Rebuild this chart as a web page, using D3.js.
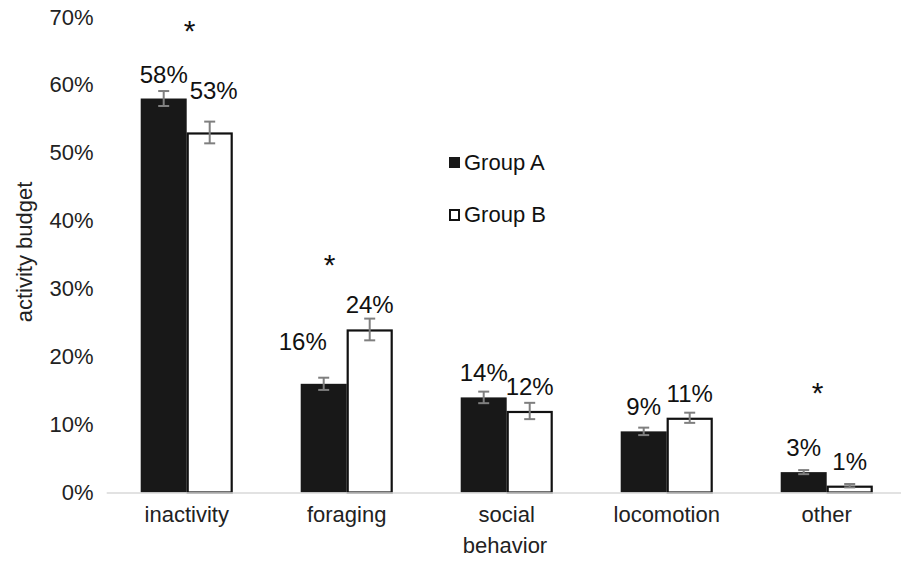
<!DOCTYPE html>
<html>
<head>
<meta charset="utf-8">
<script src="https://cdn.jsdelivr.net/npm/d3@7"></script>
<style>
  html, body { margin: 0; padding: 0; background: #fff; }
  svg { display: block; font-family: "Liberation Sans", Arial, Helvetica, sans-serif; }
</style>
</head>
<body>
<svg id="chart" width="901" height="561"></svg>
<script>
// ---- data ----
const categories = ["inactivity", "foraging", "social", "locomotion", "other"];
const seriesNames = ["Group A", "Group B"];
const groupA = [0.58, 0.16, 0.14, 0.09, 0.03];
const groupB = [0.53, 0.24, 0.12, 0.11, 0.01];
const errorA = [0.011, 0.009, 0.0085, 0.0055, 0.003];
const errorB = [0.016, 0.016, 0.012, 0.0075, 0.0025];
const significant = [true, true, false, false, true];
const asteriskLevel = [0.684, 0.34, null, null, 0.151];
const yTicks = [0, 0.1, 0.2, 0.3, 0.4, 0.5, 0.6, 0.7];

// ---- layout ----
const svg = d3.select("#chart");
const x0 = d3.scaleBand().domain(categories).range([106.7, 906.7])
  .paddingInner(0.425).paddingOuter(0.2125);
const x1 = d3.scaleBand().domain(seriesNames).range([0, x0.bandwidth()]);
const y = d3.scaleLinear().domain([0, 0.7]).range([492.5, 17]);

const rows = categories.map((c, i) => ({
  cat: c, i,
  vals: [
    { s: "Group A", v: groupA[i], e: errorA[i] },
    { s: "Group B", v: groupB[i], e: errorB[i] }
  ]
}));

// y axis tick labels (no line)
const yAxis = d3.axisLeft(y).tickValues(yTicks).tickFormat(d3.format(".0%")).tickSize(0).tickPadding(0);
const gy = svg.append("g").attr("transform", "translate(93.5,0)").call(yAxis);
gy.select(".domain").remove();
gy.selectAll("text").attr("font-size", 22).attr("fill", "#222").attr("font-family", null);

// bars
const groups = svg.append("g").selectAll("g").data(rows).join("g")
  .attr("transform", d => `translate(${x0(d.cat)},0)`);

groups.selectAll("rect").data(d => d.vals).join("rect")
  .attr("x", d => x1(d.s) + (d.s === "Group B" ? 1 : 0))
  .attr("width", d => x1.bandwidth() - (d.s === "Group B" ? 2 : 0))
  .attr("y", d => y(d.v) + (d.s === "Group B" ? 1 : 0))
  .attr("height", d => y(0) - y(d.v) - (d.s === "Group B" ? 1 : 0))
  .attr("fill", d => d.s === "Group A" ? "#181818" : "#ffffff")
  .attr("stroke", d => d.s === "Group A" ? "none" : "#111")
  .attr("stroke-width", 2.2);

// x axis baseline
const xAxis = d3.axisBottom(x0).tickSize(0).tickPadding(0);
const gx = svg.append("g").attr("transform", `translate(0,${y(0)})`).call(xAxis);
gx.select(".domain").remove();
svg.append("line").attr("x1", 106.7).attr("x2", 901).attr("y1", y(0) + 0.5).attr("y2", y(0) + 0.5)
  .attr("stroke", "#d9d9d9").attr("stroke-width", 1.5);
gx.selectAll("text").attr("font-size", 22).attr("fill", "#222").attr("font-family", null)
  .attr("dy", null).attr("y", 29);

// error bars
const eb = groups.selectAll("g.err").data(d => d.vals).join("g").attr("class", "err")
  .attr("stroke", "#7f7f7f").attr("stroke-width", 2);
eb.append("line")
  .attr("x1", d => x1(d.s) + x1.bandwidth() / 2).attr("x2", d => x1(d.s) + x1.bandwidth() / 2)
  .attr("y1", d => y(d.v + d.e)).attr("y2", d => y(d.v - d.e));
eb.append("line")
  .attr("x1", d => x1(d.s) + x1.bandwidth() / 2 - 5.5).attr("x2", d => x1(d.s) + x1.bandwidth() / 2 + 5.5)
  .attr("y1", d => y(d.v + d.e)).attr("y2", d => y(d.v + d.e));
eb.append("line")
  .attr("x1", d => x1(d.s) + x1.bandwidth() / 2 - 5.5).attr("x2", d => x1(d.s) + x1.bandwidth() / 2 + 5.5)
  .attr("y1", d => y(d.v - d.e)).attr("y2", d => y(d.v - d.e));

// data labels (manual nudges mimic the reference placement)
const nudge = { "inactivity|Group B": [4, -17], "foraging|Group A": [-21, -18] };
groups.each(function (row) {
  d3.select(this).selectAll("text.lbl").data(row.vals).join("text").attr("class", "lbl")
    .attr("x", d => x1(d.s) + x1.bandwidth() / 2 + ((nudge[row.cat + "|" + d.s] || [0, 0])[0]))
    .attr("y", d => y(d.v) - 16 + ((nudge[row.cat + "|" + d.s] || [0, 0])[1]))
    .attr("text-anchor", "middle").attr("font-size", 24).attr("fill", "#111")
    .text(d => d3.format(".0%")(d.v));
});

// significance asterisks
const astDx = [3, -17, 0, 0, -9];
svg.append("g").selectAll("text").data(rows.filter(d => significant[d.i])).join("text")
  .attr("x", d => x0(d.cat) + x0.bandwidth() / 2 + astDx[d.i])
  .attr("y", d => y(asteriskLevel[d.i]) + 13)
  .attr("text-anchor", "middle").attr("font-size", 30).attr("fill", "#111")
  .text("*");

// legend
const legend = svg.append("g");
const legY = [162, 214];
seriesNames.forEach((s, i) => {
  if (i === 0) {
    legend.append("rect").attr("x", 449).attr("y", legY[i] - 5).attr("width", 11).attr("height", 11).attr("fill", "#181818");
  } else {
    legend.append("rect").attr("x", 450).attr("y", legY[i] - 4).attr("width", 9).attr("height", 10)
      .attr("fill", "#fff").attr("stroke", "#111").attr("stroke-width", 2);
  }
  legend.append("text").attr("x", 464).attr("y", legY[i] + 8).attr("font-size", 22).attr("fill", "#111").text(s);
});

// axis titles
svg.append("text").attr("x", 505).attr("y", 553).attr("text-anchor", "middle")
  .attr("font-size", 22).attr("fill", "#222").text("behavior");
svg.append("text").attr("transform", "translate(32,252) rotate(-90)").attr("text-anchor", "middle")
  .attr("font-size", 22).attr("fill", "#222").text("activity budget");
</script>
</body>
</html>
